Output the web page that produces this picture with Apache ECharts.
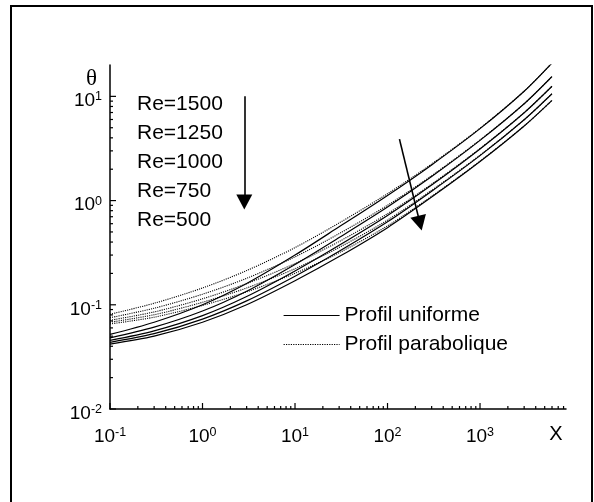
<!DOCTYPE html>
<html><head><meta charset="utf-8">
<script src="https://cdn.jsdelivr.net/npm/echarts@6/dist/echarts.min.js"></script>
<style>html,body{margin:0;padding:0;background:#fff}#c{width:594px;height:502px}</style>
</head><body><div id="c"></div>
<script>
// ---- data ----
const xValues = [0.1, 0.3, 1, 3, 10, 30, 100, 300, 1000, 3000, 6000];
const reLabels = ['Re=1500', 'Re=1250', 'Re=1000', 'Re=750', 'Re=500'];
// Profil uniforme (solid)
const uni1500 = [0.052, 0.068, 0.100, 0.160, 0.300, 0.560, 1.12, 2.20, 4.90, 11.2, 20.9];
const uni1250 = [0.0482, 0.0610, 0.0871, 0.135, 0.244, 0.442, 0.867, 1.70, 3.78, 8.49, 15.5];
const uni1000 = [0.0455, 0.0562, 0.0787, 0.120, 0.211, 0.372, 0.719, 1.41, 3.13, 6.97, 12.5];
const uni750  = [0.0436, 0.0528, 0.0729, 0.109, 0.188, 0.326, 0.625, 1.23, 2.70, 5.97, 10.6];
const uni500  = [0.042, 0.050, 0.068, 0.100, 0.170, 0.290, 0.550, 1.08, 2.37, 5.20, 9.16];
// Profil parabolique (dotted)
const par1500 = [0.0811, 0.1034, 0.145, 0.213, 0.354, 0.610, 1.165, 2.244, 4.95, 11.2, 20.9];
const par1250 = [0.0752, 0.0927, 0.1263, 0.1796, 0.288, 0.482, 0.902, 1.734, 3.82, 8.49, 15.5];
const par1000 = [0.0710, 0.0854, 0.1141, 0.1596, 0.249, 0.405, 0.748, 1.438, 3.16, 6.97, 12.5];
const par750  = [0.0680, 0.0803, 0.1057, 0.145, 0.222, 0.355, 0.650, 1.255, 2.73, 5.97, 10.6];
const par500  = [0.0655, 0.0760, 0.0986, 0.133, 0.2006, 0.316, 0.572, 1.10, 2.39, 5.20, 9.16];
const xMajorTicks = [0.1, 1, 10, 100, 1000];
const yMajorTicks = [0.01, 0.1, 1, 10];
const legendNames = ['Profil uniforme', 'Profil parabolique'];

const X_MIN = 0.1, X_MAX = 8500, Y_MIN = 0.01, Y_MAX = 20;
const FONT = "'Liberation Sans', Arial, sans-serif";

function minorTicks(lo, hi) {
  const out = [];
  for (let e = Math.floor(Math.log10(lo)); e <= Math.ceil(Math.log10(hi)); e++) {
    for (let m = 2; m <= 9; m++) {
      const v = m * Math.pow(10, e);
      if (v > lo && v < hi) out.push(v);
    }
  }
  return out;
}
const xMinorTicks = minorTicks(X_MIN, X_MAX);
const yMinorTicks = minorTicks(Y_MIN, Y_MAX);

function pairs(ys) { return xValues.map((x, i) => [x, ys[i]]); }

const solidSets = [uni1500, uni1250, uni1000, uni750, uni500];
const dotSets = [par1500, par1250, par1000, par750, par500];

function supLabel(v) {
  const l = Math.log10(v);
  const e = Math.round(l);
  if (Math.abs(l - e) > 1e-6) return '';
  return '{b|10}{s|' + e + '}';
}
const richLab = {
  b: { fontSize: 19, fontFamily: FONT, color: '#000', lineHeight: 21 },
  s: { fontSize: 12.5, fontFamily: FONT, color: '#000', verticalAlign: 'top', lineHeight: 21 }
};

const series = [];
solidSets.forEach((d) => {
  series.push({
    name: legendNames[0], type: 'line', data: pairs(d), symbol: 'none', smooth: 0.3,
    lineStyle: { color: '#000', width: 1.2, type: 'solid' }, itemStyle: { color: '#000' },
    z: 3, silent: true
  });
});
dotSets.forEach((d) => {
  series.push({
    name: legendNames[1], type: 'line', data: pairs(d), symbol: 'none', smooth: 0.3,
    lineStyle: { color: '#000', width: 1.1, type: 'dotted' }, itemStyle: { color: '#000' },
    z: 3, silent: true
  });
});
// arrows
series[0].markLine = {
  silent: true, symbol: ['none', 'triangle'], symbolSize: [16, 15],
  label: { show: false },
  lineStyle: { color: '#000', width: 1.6, type: 'solid' },
  emphasis: { disabled: true },
  data: [
    [{ coord: [2.83, 10] }, { coord: [2.83, 0.97] }],
    [{ coord: [134.6, 3.89] }, { coord: [224, 0.608] }]
  ]
};
// ticks drawn through the axes' scales
function tickSeries(vals, axis, len) {
  return {
    type: 'custom', silent: true, z: 4,
    data: vals.map(v => axis === 'x' ? [v, Y_MIN] : [X_MIN, v]),
    renderItem: function (params, api) {
      const p = api.coord([api.value(0), api.value(1)]);
      const shape = axis === 'x'
        ? { x1: p[0], y1: p[1], x2: p[0], y2: p[1] - len }
        : { x1: p[0], y1: p[1], x2: p[0] + len, y2: p[1] };
      return { type: 'line', shape: shape, style: { stroke: '#000', lineWidth: 1.2 } };
    }
  };
}
series.push(tickSeries(xMajorTicks, 'x', 6));
series.push(tickSeries(xMinorTicks, 'x', 3));
series.push(tickSeries(yMajorTicks, 'y', 6));
series.push(tickSeries(yMinorTicks, 'y', 3));

const chart = echarts.init(document.getElementById('c'), null, { renderer: 'canvas' });
chart.setOption({
  animation: false,
  backgroundColor: '#fff',
  textStyle: { fontFamily: FONT },
  grid: { left: 110, right: 28, top: 65, bottom: 93 },
  xAxis: {
    type: 'log', logBase: 10, min: X_MIN, max: X_MAX,
    name: 'X', nameLocation: 'end', nameGap: -10,
    nameTextStyle: { fontSize: 20, color: '#000', fontFamily: FONT, align: 'center', verticalAlign: 'top', padding: [15, 0, 0, 0] },
    axisLine: { show: true, lineStyle: { color: '#000', width: 1.5 } },
    axisTick: { show: false }, splitLine: { show: false }, minorTick: { show: false },
    axisLabel: { margin: 17, formatter: supLabel, rich: richLab, showMaxLabel: false }
  },
  yAxis: {
    type: 'log', logBase: 10, min: Y_MIN, max: Y_MAX,
    name: 'θ', nameLocation: 'end', nameGap: -27,
    nameTextStyle: { fontSize: 23, color: '#000', fontFamily: "'Liberation Serif', serif", align: 'right', padding: [0, 13, 0, 0] },
    axisLine: { show: true, lineStyle: { color: '#000', width: 1.5 } },
    axisTick: { show: false }, splitLine: { show: false }, minorTick: { show: false },
    axisLabel: { margin: 8, formatter: supLabel, rich: richLab, showMaxLabel: false, padding: [9, 0, 0, 0] }
  },
  legend: {
    data: legendNames, orient: 'vertical', left: 283, top: 305, padding: 0,
    itemWidth: 56, itemHeight: 14, itemGap: 8, selectedMode: false,
    itemStyle: { opacity: 0 },
    lineStyle: { width: 1.2 },
    textStyle: { fontSize: 21, color: '#000', fontFamily: FONT }
  },
  graphic: [
    { type: 'rect', shape: { x: 11, y: 6, width: 581, height: 520 }, style: { fill: 'none', stroke: '#000', lineWidth: 2 }, silent: true },
    { type: 'text', left: 137, top: 90, style: { text: reLabels.join('\n'), font: '21px ' + FONT, fill: '#000', lineHeight: 29 }, silent: true }
  ],
  series: series
});
</script></body></html>
